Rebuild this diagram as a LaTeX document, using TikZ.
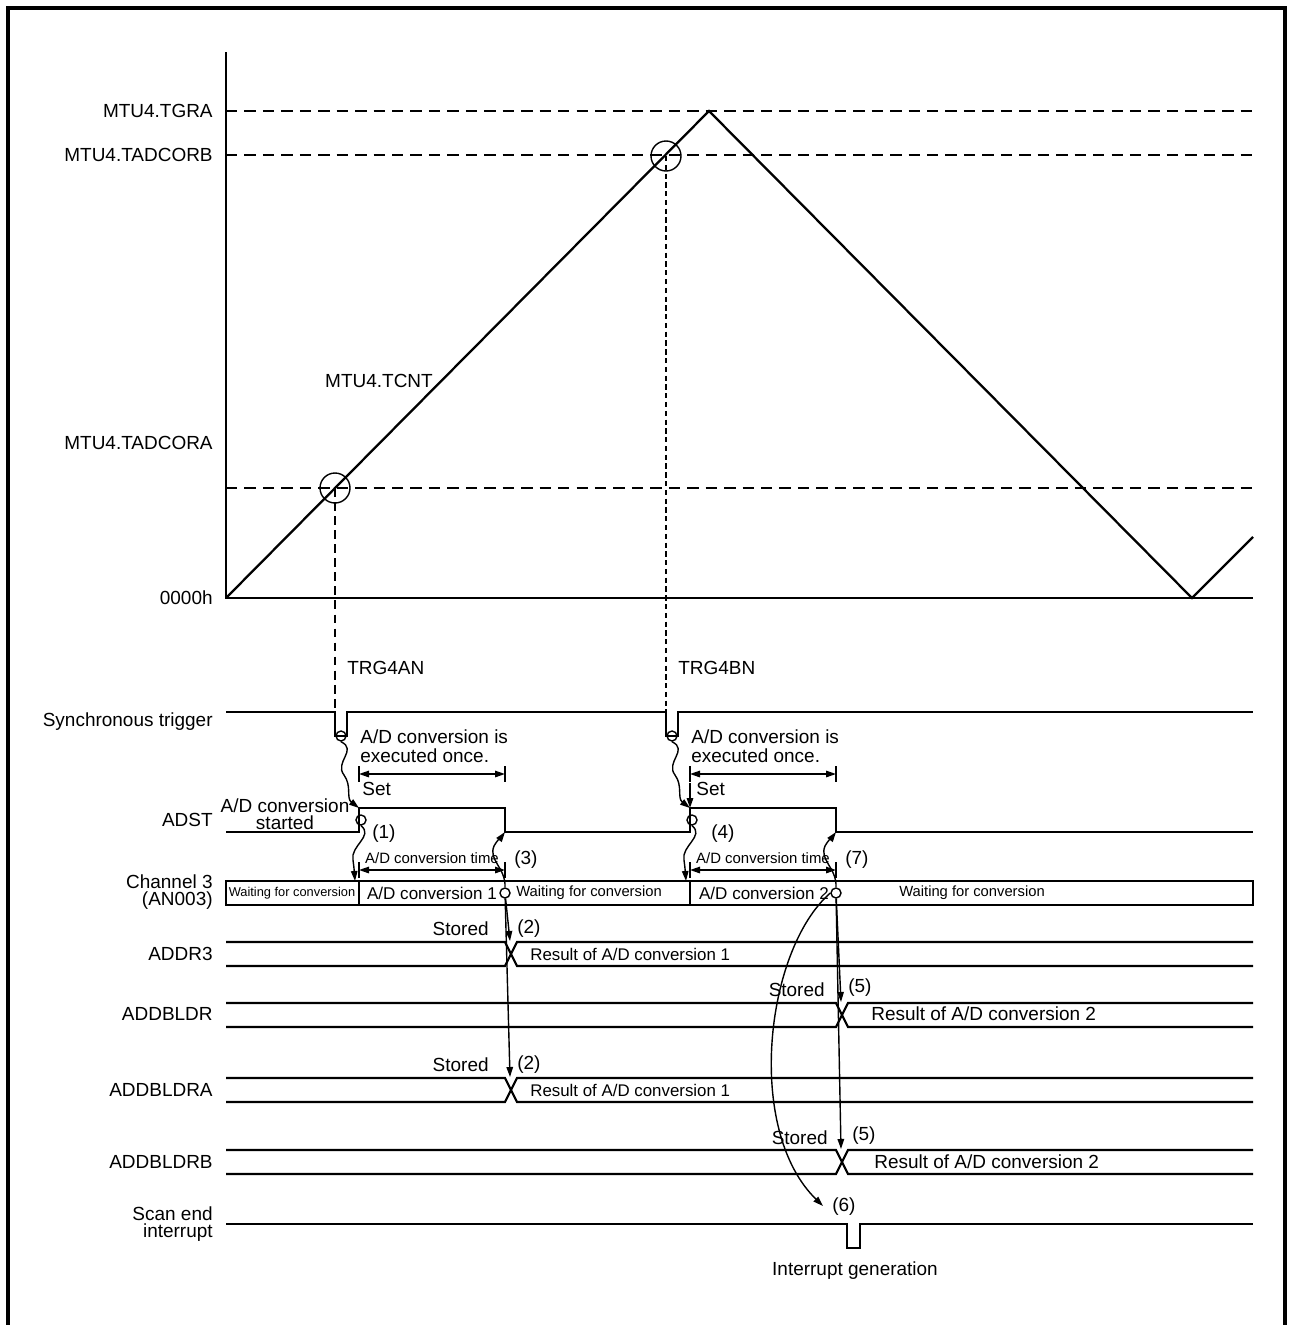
\documentclass[tikz,border=0pt]{standalone}
\usepackage{fontspec}
\setmainfont{Liberation Sans}
\usetikzlibrary{arrows.meta,positioning,calc}

\begin{document}
\begin{tikzpicture}[x=0.02cm, y=-0.02cm, font=\fontsize{10.8}{12}\selectfont,
  sig/.style={line width=1.2pt},
  fine/.style={line width=0.8pt},
  lvl/.style={line width=1.5pt, dash pattern=on 6.5pt off 4pt},
  ar/.style={fine, -{Triangle[length=2mm,width=1.3mm]}},
  dim/.style={fine, {Triangle[length=2mm,width=1.3mm]}-{Triangle[length=2mm,width=1.3mm]}},
  lab/.style={anchor=east, align=right, inner sep=0pt, font=\fontsize{10.8}{9.4}\selectfont},
  txt/.style={inner sep=0pt},
  sm/.style={txt, font=\fontsize{8.4}{10}\selectfont},
  ring/.style={draw, circle, fine, minimum size=6mm, inner sep=0pt},
  dot/.style={draw, circle, fine, minimum size=2mm, inner sep=0pt}]
  \useasboundingbox (0,0) rectangle (1291,1325);
  \draw[line width=2.2pt] (8,1330) -- (8,8) -- (1285,8) -- (1285,1330);
  \draw[fine] (226,52) -- (226,598) -- (1253,598);
  \foreach \y in {111,155,488} \draw[lvl] (226,\y) -- (1253,\y);
  \draw[line width=1.3pt] (226,598) -- (709,111) -- (1192,598) -- (1253,537);
  \node[ring] (ra) at (335,488) {}; \node[ring] (rb) at (666,156) {};
  \coordinate (pa) at (335,712); \coordinate (pb) at (666,712);
  \draw[sig, dash pattern=on 5pt off 3pt] (ra.center) -- (pa);
  \draw[sig, dash pattern=on 3pt off 2pt] (rb.center) -- (pb);
  \foreach \y/\t [count=\i] in {111/MTU4.TGRA, 155/MTU4.TADCORB, 443/MTU4.TADCORA, 598/0000h,
    722/Synchronous trigger, 820/ADST, 892/{Channel 3\\(AN003)}, 954/ADDR3, 1014/ADDBLDR,
    1090/ADDBLDRA, 1162/ADDBLDRB, 1224/{Scan end\\interrupt}}
    \node[lab] (lab\i) at (213,\y) {\t};
  \node[txt] (tcnt) at (379,381) {MTU4.TCNT};
  \node[txt, anchor=west] (trga) at (347,668) {TRG4AN}; \node[txt, anchor=west] (trgb) at (678,668) {TRG4BN};
  \draw[sig] (226,712) -- (pa) -- (335,736) -- (347,736) -- (347,712) -- (pb) -- (666,736) -- (678,736) -- (678,712) -- (1253,712);
  \draw[sig] (226,832) -- (359,832) -- (359,808) -- (505,808) -- (505,832) -- (690,832) -- (690,808) -- (836,808) -- (836,832) -- (1253,832);
  \node[txt, align=center, font=\fontsize{10.8}{9.6}\selectfont] (started) at (285,814) {A/D conversion\\started};
  \foreach \dx/\k/\p/\q/\px in {0/1/1/3/372, 331/2/4/7/711} {
    \node[dot] (t\k) at (341+\dx,736) {};
    \node[dot] (s\k) at (361+\dx,820) {};
    \node[dot] (e\k) at (505+\dx,893) {};
    \coordinate (up\k) at (359+\dx,808); \coordinate (dn\k) at (505+\dx,832); \coordinate (in\k) at (355+\dx,881);
    \node[txt, anchor=north west, align=left, font=\fontsize{10.8}{11.3}\selectfont] (once\k) at (360+\dx,729) {A/D conversion is\\executed once.};
    \draw[dim] (359+\dx,774) -- (505+\dx,774);
    \draw[fine] (359+\dx,766) -- (359+\dx,782) (505+\dx,766) -- (505+\dx,782);
    \node[txt, font=\fontsize{8.5}{10}\selectfont] (tc\k) at (432+\dx,858) {A/D conversion time};
    \draw[dim] (359+\dx,870) -- (505+\dx,870);
    \draw[fine] (359+\dx,862) -- (359+\dx,878) (505+\dx,862) -- (505+\dx,878);
    \node[txt, anchor=west] (n\p) at (\px,834) {(\p)};
    \node[txt, anchor=west] (n\q) at (514+\dx,860) {(\q)};
    \draw[ar] (t\k.south) .. controls (358+\dx,750) and (334+\dx,762) .. (344+\dx,775) .. controls (352+\dx,786) and (346+\dx,798) .. (up\k);
    \draw[ar] (s\k.south) .. controls (374+\dx,836) and (350+\dx,846) .. (353+\dx,860) .. controls (354+\dx,868) .. (in\k);
    \draw[ar] (e\k.north) .. controls (506+\dx,868) and (488+\dx,860) .. (494+\dx,846) .. controls (498+\dx,839) and (502+\dx,836) .. (dn\k);
  }
  \node[txt, anchor=west] (set1) at (362,789) {Set}; \node[txt, anchor=west] (set2) at (696,789) {Set};
  \coordinate (sa) at (690,783); \draw[ar] (sa) -- (up2);
  \draw[sig] (226,881) rectangle (1253,905);
  \draw[fine] (359,881) -- (359,905) (690,881) -- (690,905);
  \node[txt, font=\fontsize{7.3}{9}\selectfont] (w1) at (292,893) {Waiting for conversion};
  \node[txt, font=\fontsize{9.7}{11}\selectfont] (c1) at (432,893) {A/D conversion 1};
  \node[sm] (w2) at (589,893) {Waiting for conversion};
  \node[txt, font=\fontsize{9.7}{11}\selectfont] (c2) at (764,893) {A/D conversion 2};
  \node[sm] (w3) at (972,893) {Waiting for conversion};
  \foreach \i/\y/\xx in {1/942/505, 2/1003/836, 3/1078/505, 4/1150/836} {
    \draw[sig] (226,\y) -- (\xx,\y) -- (\xx+12,\y+24) -- (1253,\y+24);
    \draw[sig] (226,\y+24) -- (\xx,\y+24) -- (\xx+12,\y) -- (1253,\y);
    \coordinate (b\i) at (\xx+5,\y-1);
  }
  \node[txt, anchor=east] (st1) at (489,929) {Stored}; \node[txt, anchor=west] (n2a) at (517,929) {(2)};
  \node[txt, anchor=east] (st2) at (825,990) {Stored}; \node[txt, anchor=west] (n5a) at (848,988) {(5)};
  \node[txt, anchor=east] (st3) at (489,1065) {Stored}; \node[txt, anchor=west] (n2b) at (517,1065) {(2)};
  \node[txt, anchor=east] (st4) at (828,1138) {Stored}; \node[txt, anchor=west] (n5b) at (852,1136) {(5)};
  \node[txt, anchor=west, font=\fontsize{9.6}{11}\selectfont] (r1) at (530,954) {Result of A/D conversion 1};
  \node[txt, anchor=west] (r2) at (871,1014) {Result of A/D conversion 2};
  \node[txt, anchor=west, font=\fontsize{9.6}{11}\selectfont] (r3) at (530,1090) {Result of A/D conversion 1};
  \node[txt, anchor=west] (r4) at (874,1162) {Result of A/D conversion 2};
  \foreach \a/\b in {e1/b1, e1/b3, e2/b2, e2/b4} \draw[ar] (\a) -- (\b);
  \coordinate (i6) at (823,1206);
  \draw[ar] (e2.west) .. controls (765,950) and (745,1130) .. (i6);
  \draw[sig] (226,1224) -- (847,1224) -- (847,1248) -- (860,1248) -- (860,1224) -- (1253,1224);
  \node[txt, anchor=west] (n6) at (832,1207) {(6)};
  \node[txt] (intgen) at (855,1271) {Interrupt generation};
\end{tikzpicture}
\end{document}
